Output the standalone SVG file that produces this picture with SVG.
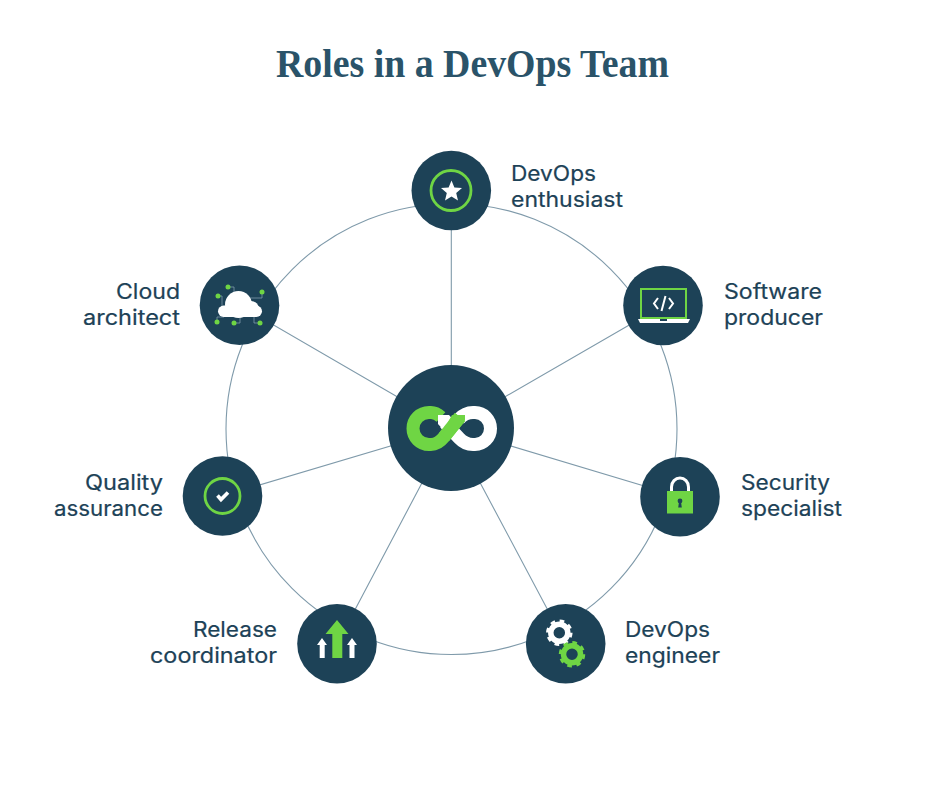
<svg xmlns="http://www.w3.org/2000/svg" width="943" height="785" viewBox="0 0 943 785">
<style>
.bg{fill:#fff}
.title{font-family:"Liberation Serif","DejaVu Serif",serif;font-weight:700;font-size:41px;fill:#2a5369}
.lbl{font-family:Inter,"Liberation Sans",sans-serif;font-weight:400;font-size:21px;fill:#1d4257;stroke:#1d4257;stroke-width:.2}
.end{text-anchor:end}
.disc{fill:#1d4257}
.wire{fill:none;stroke:#7f9aaa;stroke-width:1.1}
.trace{fill:none;stroke:#7f9aaa;stroke-width:.8}
.gl{fill:#6fd544}
.wh{fill:#fff}
.ringg{fill:none;stroke:#6fd544;stroke-width:2.8}
.band{fill:none;stroke-width:13}
</style>
<rect class="bg" width="943" height="785"/>
<text class="title" x="472.500" y="77" text-anchor="middle" textLength="393" lengthAdjust="spacingAndGlyphs">Roles in a DevOps Team</text>
<g id="connectors">
<circle class="wire" cx="451.500" cy="429" r="225.500"/>
<path class="wire" d="M451.300 428V190.500M451 428L663 305.500M451 428L680 496.700M451 428L565.700 643.700M451 428L337 643.700M451 428L222.500 496M451 428L239.500 305.300"/>
</g>
<g id="hub">
<circle class="disc" cx="451" cy="428" r="63"/>
<path class="band" d="M445 423L459 438Q465 444.500 473 444.500H475A15.500 16 0 0 0 475 412.500H473Q465 412.500 459 419" stroke="#fff"/>
<path class="band" d="M460 417L444 437Q438 444.500 431 444.500H429A16 16 0 0 1 429 412.500H431Q436 412.500 441 417" stroke="#6fd544"/>
<path class="wh" d="M438 415H449L457 424L447 434L438 424Z"/>
<path class="band" d="M460 417L444 437" stroke="#6fd544"/>
<path class="gl" d="M452 415H465V420L455 432L447 424Z"/>
</g>
<g id="devops-enthusiast">
<circle class="disc" cx="451.300" cy="190.500" r="39.800"/>
<circle class="ringg" cx="451" cy="190.500" r="20"/>
<polygon class="wh" points="451.500,180.500 454.400,187.500 462,188.100 456.200,193 458,200.500 451.500,196.500 445,200.500 446.800,193 441,188.100 448.600,187.500"/>
<text class="lbl" x="511" y="181" textLength="85" lengthAdjust="spacingAndGlyphs">DevOps</text>
<text class="lbl" x="511" y="207" textLength="112" lengthAdjust="spacingAndGlyphs">enthusiast</text>
</g>
<g id="software-producer">
<circle class="disc" cx="663" cy="305.500" r="39.800"/>
<rect x="641" y="289" width="45" height="29" fill="none" stroke="#6fd544" stroke-width="2"/>
<path class="wh" d="M638 319H690L688 323H640Z"/>
<rect class="disc" x="660" y="319" width="7" height="2"/>
<path d="M658 298L654 303.500L658 309M669 298L673 303.500L669 309M665.500 296L661.500 311" fill="none" stroke="#fff" stroke-width="2"/>
<text class="lbl" x="724" y="299" textLength="98" lengthAdjust="spacingAndGlyphs">Software</text>
<text class="lbl" x="724" y="325" textLength="99" lengthAdjust="spacingAndGlyphs">producer</text>
</g>
<g id="security-specialist">
<circle class="disc" cx="680" cy="496.700" r="39.800"/>
<path d="M671.500 492V487A8.500 9 0 0 1 688.500 487V492" fill="none" stroke="#fff" stroke-width="3"/>
<rect class="gl" x="667" y="491" width="26" height="22.500"/>
<circle class="disc" cx="680" cy="501" r="2.400"/>
<path class="disc" d="M679 502H681L681.800 507.500H678.200Z"/>
<text class="lbl" x="741" y="490" textLength="89" lengthAdjust="spacingAndGlyphs">Security</text>
<text class="lbl" x="741" y="516" textLength="101" lengthAdjust="spacingAndGlyphs">specialist</text>
</g>
<g id="devops-engineer">
<circle class="disc" cx="565.700" cy="643.700" r="39.800"/>
<circle cx="559.300" cy="632.700" r="8.500" fill="none" stroke="#fff" stroke-width="5.500"/>
<circle cx="559.300" cy="632.700" r="11.500" fill="none" stroke="#fff" stroke-width="3.500" stroke-dasharray="4.500 4.530"/>
<circle cx="572" cy="654.300" r="8.500" fill="none" stroke="#6fd544" stroke-width="5.500"/>
<circle cx="572" cy="654.300" r="11.500" fill="none" stroke="#6fd544" stroke-width="3.500" stroke-dasharray="4.500 4.530"/>
<text class="lbl" x="625" y="637" textLength="85" lengthAdjust="spacingAndGlyphs">DevOps</text>
<text class="lbl" x="625" y="663" textLength="95" lengthAdjust="spacingAndGlyphs">engineer</text>
</g>
<g id="release-coordinator">
<circle class="disc" cx="337" cy="643.700" r="39.800"/>
<polygon class="gl" points="337,620 348.500,634 342.300,634 342.300,658 332.300,658 332.300,634 325.500,634"/>
<polygon class="wh" points="322,638 327,645 324.700,645 324.700,658 319.700,658 319.700,645 317,645"/>
<polygon class="wh" points="352,638 357,645 354.500,645 354.500,658 349.500,658 349.500,645 347,645"/>
<text class="lbl end" x="277" y="637" textLength="84" lengthAdjust="spacingAndGlyphs">Release</text>
<text class="lbl end" x="277" y="663" textLength="127" lengthAdjust="spacingAndGlyphs">coordinator</text>
</g>
<g id="quality-assurance">
<circle class="disc" cx="222.500" cy="496" r="39.800"/>
<circle class="ringg" cx="222.500" cy="496" r="17.500"/>
<path d="M217.500 495.500L221 499.500L228 492.500" fill="none" stroke="#fff" stroke-width="3.600"/>
<text class="lbl end" x="163" y="490" textLength="78" lengthAdjust="spacingAndGlyphs">Quality</text>
<text class="lbl end" x="163" y="516" textLength="109" lengthAdjust="spacingAndGlyphs">assurance</text>
</g>
<g id="cloud-architect">
<circle class="disc" cx="239.500" cy="305.300" r="39.800"/>
<path class="trace" d="M228 287H234V296M218 296H222V308M262 292V298H250M217 322V317H224M234 323H240V312M260 323H254V314"/>
<g class="wh">
<circle cx="238.500" cy="304.500" r="13.500"/>
<circle cx="251" cy="309" r="8"/>
<rect x="218" y="305.500" width="44" height="11.500" rx="5.700"/>
</g>
<g class="gl">
<circle cx="228" cy="287" r="2.500"/><circle cx="218" cy="296" r="2.500"/><circle cx="262" cy="292" r="2.500"/>
<circle cx="217" cy="322" r="2.500"/><circle cx="234" cy="323" r="2.500"/><circle cx="260" cy="323" r="2.500"/>
</g>
<text class="lbl end" x="180" y="299" textLength="64" lengthAdjust="spacingAndGlyphs">Cloud</text>
<text class="lbl end" x="180" y="325" textLength="97" lengthAdjust="spacingAndGlyphs">architect</text>
</g>
</svg>
